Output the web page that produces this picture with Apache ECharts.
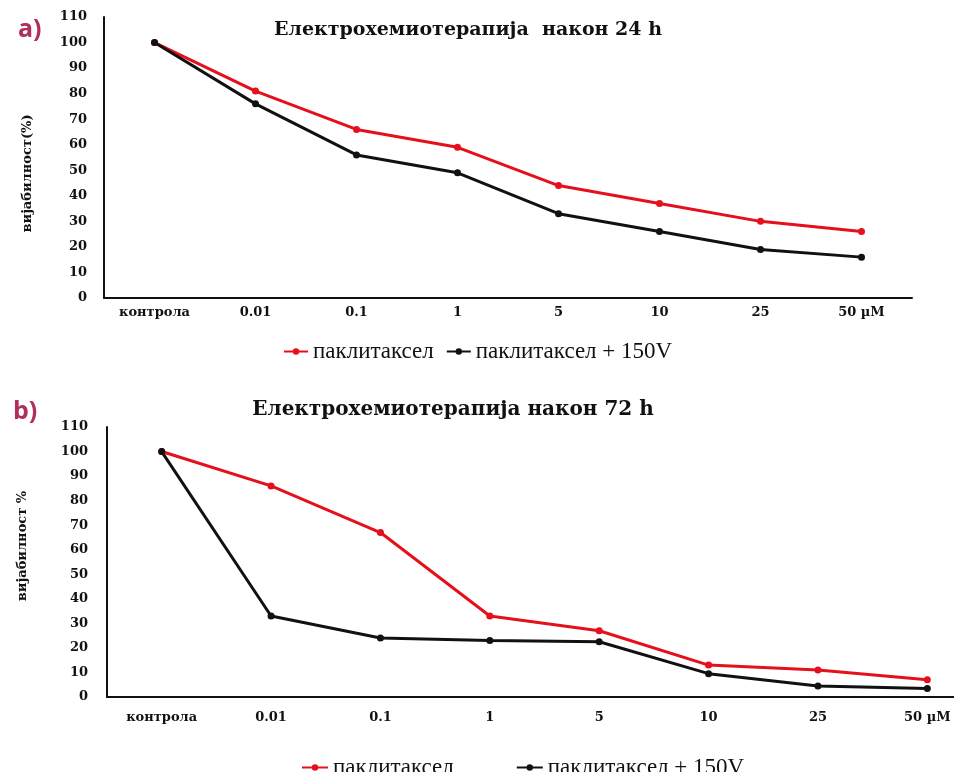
<!DOCTYPE html>
<html>
<head>
<meta charset="utf-8">
<script src="https://cdn.jsdelivr.net/npm/echarts@6/dist/echarts.min.js"></script>
<style>
html, body { margin: 0; padding: 0; background: #fff; overflow: hidden; }
/* lower plot's axis runs past the right edge, so the canvas is a bit wider than the window */
#main { width: 982px; height: 772px; }
</style>
</head>
<body>
<div id="main"></div>
<script>
var categories = ['контрола', '0.01', '0.1', '1', '5', '10', '25', '50 µM'];
var ptx24 = [100, 81, 66, 59, 44, 37, 30, 26];
var ptxV24 = [100, 76, 56, 49, 33, 26, 19, 16];
var ptx72 = [100, 86, 67, 33, 27, 13, 11, 7];
var ptxV72 = [100, 33, 24, 23, 22.5, 9.5, 4.5, 3.5];
var yTicks = [0, 10, 20, 30, 40, 50, 60, 70, 80, 90, 100, 110];

var nameRed = 'паклитаксел';
var nameBlack = 'паклитаксел + 150V';
var red = '#e5101c';
var black = '#111111';
var serifBold = '"DejaVu Serif", serif';

var chart = echarts.init(document.getElementById('main'));

function xAxisCfg(grid, margin){
	return {
		type : 'category',
		gridIndex : grid,
		data : categories,
		boundaryGap : true,
		axisLine : { lineStyle : { color : '#111', width : 2 } },
		axisTick : { show : false },
		axisLabel : {
			interval : 0,
			margin : margin,
			color : '#111',
			fontFamily : serifBold,
			fontWeight : 'bold',
			fontSize : 13
		},
		splitLine : { show : false }
	};
}
function yAxisCfg(grid, name, margin, gap, shift){
	return {
		type : 'value',
		gridIndex : grid,
		min : yTicks[0],
		max : yTicks[yTicks.length - 1],
		interval : 10,
		name : name,
		nameLocation : 'middle',
		nameGap : gap,
		nameTextStyle : {
			color : '#111',
			fontFamily : serifBold,
			fontWeight : 'bold',
			fontSize : 13,
			padding : [0, 0, 0, shift]
		},
		axisLine : { show : true, lineStyle : { color : '#111', width : 2 } },
		axisTick : { show : false },
		axisLabel : {
			margin : margin,
			color : '#111',
			fontFamily : serifBold,
			fontWeight : 'bold',
			fontSize : 13
		},
		splitLine : { show : false }
	};
}
function lineSeries(name, data, color, idx){
	return {
		name : name,
		type : 'line',
		xAxisIndex : idx,
		yAxisIndex : idx,
		data : data,
		symbol : 'circle',
		symbolSize : 7,
		lineStyle : { color : color, width : 3 },
		itemStyle : { color : color },
		z : color === red ? 2 : 3
	};
}

var option = {
	backgroundColor : '#fff',
	animation : false,
	title : [{
			text : 'Електрохемиотерапија  након 24 h',
			left : 463,
			top : 16,
			textAlign : 'center',
			textStyle : { fontFamily : serifBold, fontWeight : 'bold', fontSize : 19, color : '#111' }
		}, {
			text : 'Електрохемиотерапија након 72 h',
			left : 448,
			top : 395,
			textAlign : 'center',
			textStyle : { fontFamily : serifBold, fontWeight : 'bold', fontSize : 20, color : '#111' }
		}, {
			text : 'a)',
			left : 13,
			top : 12,
			textStyle : { fontFamily : '"Open Sans", sans-serif', fontWeight : 'bold', fontSize : 25, color : '#b0305a' }
		}, {
			text : 'b)',
			left : 8,
			top : 394,
			textStyle : { fontFamily : '"Open Sans", sans-serif', fontWeight : 'bold', fontSize : 25, color : '#b0305a' }
		}
	],
	legend : [{
			data : [nameRed, nameBlack],
			left : 278,
			top : 335,
			itemWidth : 24,
			itemHeight : 8,
			itemGap : 12,
			textStyle : { fontFamily : '"Liberation Serif", serif', fontSize : 23, color : '#111' }
		}, {
			data : [nameRed, nameBlack],
			left : 296,
			top : 751,
			itemWidth : 26,
			itemHeight : 8,
			itemGap : 62,
			textStyle : { fontFamily : '"Liberation Serif", serif', fontSize : 23, color : '#111' }
		}
	],
	grid : [
		{ left : 104, top : 17, right : 70, bottom : 474 },
		{ left : 107, top : 427, right : 0, bottom : 75 }
	],
	xAxis : [xAxisCfg(0, 8), xAxisCfg(1, 14)],
	yAxis : [yAxisCfg(0, 'вијабилност(%)', 17, 70, -32), yAxisCfg(1, 'вијабилност %', 19, 78, 32)],
	series : [
		lineSeries(nameRed, ptx24, red, 0),
		lineSeries(nameBlack, ptxV24, black, 0),
		lineSeries(nameRed, ptx72, red, 1),
		lineSeries(nameBlack, ptxV72, black, 1)
	]
};
chart.setOption(option);
</script>
</body>
</html>
